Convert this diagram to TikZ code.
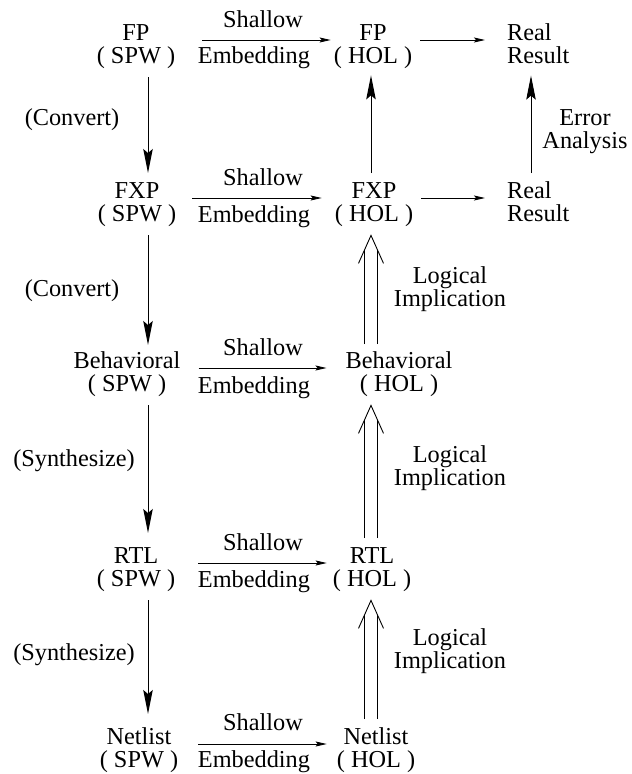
\documentclass[tikz,border=0pt]{standalone}
\usepackage{fontspec}
\setmainfont{Liberation Serif}
\usetikzlibrary{arrows.meta,calc}
\newcommand\mystrut{\rule{0pt}{18pt}}
% #1 apex coordinate, #2 bottom coordinate of the double shaft
\newcommand\dblimp[2]{%
  \draw[dbl] ([xshift=-6.5pt]#2) -- ([shift={(-6.5pt,-14.6pt)}]#1);
  \draw[dbl] ([xshift=6.5pt]#2) -- ([shift={(6.5pt,-14.6pt)}]#1);
  \draw[dbl] ([shift={(-12.5pt,-28pt)}]#1) -- (#1) -- ([shift={(12.5pt,-28pt)}]#1);
}
\begin{document}
\begin{tikzpicture}[x=1pt,y=-1pt,
  txt/.style={align=center,inner sep=0pt,anchor=north,font=\fontsize{24.3}{23.5}\selectfont},
  one/.style={inner sep=0pt,anchor=base,font=\fontsize{24.3}{23.5}\selectfont},
  big/.style={line width=1pt,-{Stealth[length=24pt,width=9.5pt,inset=4pt]}},
  small/.style={line width=0.9pt,-{Stealth[length=11pt,width=5pt,inset=2pt]}},
  dbl/.style={line width=0.9pt}]
\useasboundingbox (0,0) rectangle (632,774);

% SPW column
\node[txt] (fps)  at (136,22)  {\mystrut FP\\( SPW )};
\node[txt] (fxps) at (137,180) {\mystrut FXP\\( SPW )};
\node[txt] (behs) at (127,350) {\mystrut Behavioral\\( SPW )};
\node[txt] (rtls) at (136,545) {\mystrut RTL\\( SPW )};
\node[txt] (nets) at (139,726) {\mystrut Netlist\\( SPW )};

% HOL column
\node[txt] (fph)  at (373,22)  {\mystrut FP\\( HOL )};
\node[txt] (fxph) at (374,180) {\mystrut FXP\\( HOL )};
\node[txt] (behh) at (399,350) {\mystrut Behavioral\\( HOL )};
\node[txt] (rtlh) at (372,545) {\mystrut RTL\\( HOL )};
\node[txt] (neth) at (376,726) {\mystrut Netlist\\( HOL )};

% Real results
\node[txt,anchor=north west,align=left] (real1) at (507,22)  {\mystrut Real\\Result};
\node[txt,anchor=north west,align=left] (real2) at (507,180) {\mystrut Real\\Result};
\node[txt] (err) at (585,107) {\mystrut Error\\Analysis};

% side labels
\node[one] (conv1) at (72,125) {(Convert)};
\node[one] (conv2) at (72,296) {(Convert)};
\node[one] (syn1)  at (74,466) {(Synthesize)};
\node[one] (syn2)  at (74,660) {(Synthesize)};

\node[txt] (li1) at (450,265) {\mystrut Logical\\Implication};
\node[txt] (li2) at (450,444) {\mystrut Logical\\Implication};
\node[txt] (li3) at (450,627) {\mystrut Logical\\Implication};

% Shallow / Embedding labels
\node[one] (sh1) at (263,27)  {Shallow};
\node[one] (em1) at (254,63)  {Embedding};
\node[one] (sh2) at (263,185) {Shallow};
\node[one] (em2) at (254,222) {Embedding};
\node[one] (sh3) at (263,355) {Shallow};
\node[one] (em3) at (254,393) {Embedding};
\node[one] (sh4) at (263,550) {Shallow};
\node[one] (em4) at (254,587) {Embedding};
\node[one] (sh5) at (263,730) {Shallow};
\node[one] (em5) at (254,767) {Embedding};

% horizontal arrows (shallow embedding)
\draw[small] ([shift={(27pt,-18pt)}]fps.north east)  -- ([shift={(-3pt,-18pt)}]fph.north west);
\draw[small] ([shift={(16pt,-18pt)}]fxps.north east) -- ([shift={(-13pt,-18pt)}]fxph.north west);
\draw[small] ([shift={(18pt,-18pt)}]behs.north east) -- ([shift={(-19pt,-18pt)}]behh.north west);
\draw[small] ([shift={(23pt,-18pt)}]rtls.north east) -- ([shift={(-6pt,-18pt)}]rtlh.north west);
\draw[small] ([shift={(20pt,-18pt)}]nets.north east) -- ([shift={(-10pt,-18pt)}]neth.north west);

% HOL -> Real
\draw[small] ([shift={(8pt,-18pt)}]fph.north east)  -- ([shift={(-22pt,-18pt)}]real1.north west);
\draw[small] ([shift={(8pt,-18pt)}]fxph.north east) -- ([shift={(-22pt,-18pt)}]real2.north west);

% SPW vertical arrows
\draw[big] ([shift={(12pt,-8.3pt)}]fps.south)  -- ([shift={(11pt,7pt)}]fxps.north);
\draw[big] ([shift={(11pt,-8.3pt)}]fxps.south) -- ([shift={(21pt,5pt)}]behs.north);
\draw[big] ([shift={(21pt,-8.3pt)}]behs.south) -- ([shift={(12pt,12pt)}]rtls.north);
\draw[big] ([shift={(12pt,-8.3pt)}]rtls.south) -- ([shift={(9pt,12pt)}]nets.north);

% FXP(HOL) -> FP(HOL), Real -> Real
\draw[big] ([shift={(-3pt,7pt)}]fxph.north) -- ([shift={(-2pt,-6.3pt)}]fph.south);
\draw[big] ([shift={(24pt,7pt)}]real2.north west) -- ([shift={(24pt,-11.5pt)}]real1.south west);

% logical implications
\coordinate (ap1) at ([shift={(-3pt,-8.3pt)}]fxph.south);
\coordinate (bt1) at ($(ap1 |- behh.north)+(0,6pt)$);
\dblimp{ap1}{bt1}
\coordinate (ap2) at ([shift={(-28pt,-8.3pt)}]behh.south);
\coordinate (bt2) at ($(ap2 |- rtlh.north)+(0,7pt)$);
\dblimp{ap2}{bt2}
\coordinate (ap3) at ([shift={(-1pt,-8.3pt)}]rtlh.south);
\coordinate (bt3) at ($(ap3 |- neth.north)+(0,7pt)$);
\dblimp{ap3}{bt3}
\end{tikzpicture}
\end{document}
